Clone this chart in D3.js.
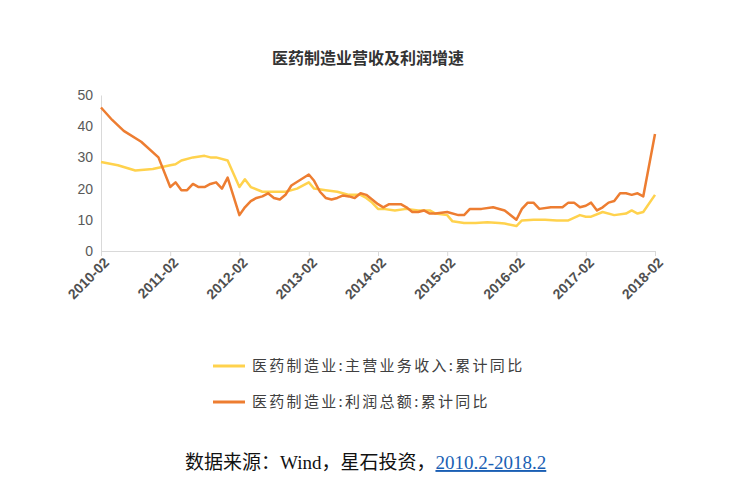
<!DOCTYPE html>
<html><head><meta charset="utf-8">
<script src="https://cdn.jsdelivr.net/npm/d3@7"></script>
<style>body{margin:0;background:#fff;font-family:"Noto Sans CJK SC",sans-serif;}</style>
</head><body>
<svg id="chart" width="737" height="485"></svg>
<script>
// 主营业务收入 累计同比
var revDates = ["2010-02","2010-05","2010-08","2010-11","2011-02","2011-03","2011-04","2011-06","2011-08","2011-09","2011-10","2011-12",
  "2012-02","2012-03","2012-04","2012-06","2012-08","2012-10","2012-12","2013-02","2013-03","2013-05","2013-07","2013-09","2013-11","2013-12",
  "2014-01","2014-02","2014-03","2014-05","2014-07","2014-09","2014-11","2014-12","2015-02","2015-03","2015-05","2015-07","2015-09","2015-11","2015-12",
  "2016-02","2016-03","2016-05","2016-07","2016-09","2016-11","2017-01","2017-02","2017-03","2017-05","2017-07","2017-09","2017-10","2017-11","2017-12","2018-02"];
var revValues = [28.5,27.5,25.8,26.3,27.5,27.8,29,30,30.5,30,30,29,
  20.5,23,20.5,19,19,19,20,22,20,19.5,19,18,18,17,
  15.5,13.5,13.5,13,13.5,13,13,12,11.5,9.5,9,9,9.2,9,8.8,
  8,9.8,10,10,9.8,9.8,11.5,11,11,12.5,11.5,12,13,12,12.5,18];
// 利润总额 累计同比
var profDates = ["2010-02","2010-04","2010-06","2010-09","2010-12","2011-02","2011-03","2011-04","2011-05","2011-06","2011-07","2011-08","2011-09","2011-10","2011-11","2011-12",
  "2012-02","2012-03","2012-04","2012-05","2012-06","2012-07","2012-08","2012-09","2012-10","2012-11","2013-02","2013-03","2013-04","2013-05","2013-06","2013-07","2013-08","2013-09","2013-10","2013-11","2013-12",
  "2014-01","2014-02","2014-03","2014-04","2014-06","2014-07","2014-08","2014-09","2014-10","2014-11","2014-12","2015-02","2015-04","2015-05","2015-06","2015-08","2015-10","2015-12",
  "2016-02","2016-03","2016-04","2016-05","2016-06","2016-08","2016-10","2016-11","2016-12","2017-01","2017-02","2017-03","2017-04","2017-05","2017-06","2017-07","2017-08","2017-09","2017-10","2017-11","2017-12","2018-02"];
var profValues = [46,42,38.5,35,30,20.5,22,19.5,19.5,21.5,20.5,20.5,21.5,22,20,23.5,
  11.5,14,16,17,17.5,18.5,17,16.5,18,21,24.5,22.5,19,17,16.5,17,17.8,17.5,17,18.5,18,
  16.5,15,14,15,15,14,12.5,12.5,13,12,12,12.5,11.5,11.5,13.5,13.5,14,13,
  10,13.5,15.5,15.5,13.5,14,14,15.5,15.5,14,14.5,15.5,13,14,15.5,16,18.5,18.5,18,18.5,17.5,37.5];
var xTicks = ["2010-02","2011-02","2012-02","2013-02","2014-02","2015-02","2016-02","2017-02","2018-02"];
var yTicks = [0,10,20,30,40,50];

var parse = d3.timeParse("%Y-%m");
var svg = d3.select("#chart");
var x = d3.scaleTime().domain([parse("2010-02"), parse("2018-02")]).range([101, 655]);
var y = d3.scaleLinear().domain([0, 50]).range([251, 95]);

svg.append("text").attr("x", 368).attr("y", 64).attr("text-anchor", "middle")
  .attr("font-size", 16).attr("font-weight", "bold").attr("fill", "#333").text("医药制造业营收及利润增速");

var gy = svg.append("g").attr("transform", "translate(101,0)")
  .call(d3.axisLeft(y).tickValues(yTicks).tickSize(0).tickPadding(8));
gy.select(".domain").attr("stroke", "#d9d9d9");
gy.selectAll("text").attr("font-size", 14).attr("fill", "#595959").attr("font-family", "Liberation Sans, sans-serif");

var gx = svg.append("g").attr("transform", "translate(0,251)")
  .call(d3.axisBottom(x).tickValues(xTicks.map(parse)).tickSize(5).tickFormat(d3.timeFormat("%Y-%m")));
gx.selectAll("path,line").attr("stroke", "#d9d9d9");
gx.selectAll("text").attr("font-size", 14).attr("font-weight", "bold").attr("fill", "#505050")
  .attr("font-family", "Liberation Sans, sans-serif")
  .attr("text-anchor", "end").attr("dx", "-0.2em").attr("dy", "0.5em").attr("transform", "rotate(-45)");

var line = d3.line().x(function(d){ return x(parse(d[0])); }).y(function(d){ return y(d[1]); });
svg.append("path").datum(d3.zip(revDates, revValues)).attr("d", line)
  .attr("fill", "none").attr("stroke", "#ffd24d").attr("stroke-width", 2.5).attr("stroke-linejoin", "round");
svg.append("path").datum(d3.zip(profDates, profValues)).attr("d", line)
  .attr("fill", "none").attr("stroke", "#ed7d31").attr("stroke-width", 2.5).attr("stroke-linejoin", "round");

var legend = [["医药制造业:主营业务收入:累计同比", "#ffd24d", 366], ["医药制造业:利润总额:累计同比", "#ed7d31", 402]];
legend.forEach(function(l){
  svg.append("line").attr("x1", 213).attr("x2", 245).attr("y1", l[2]).attr("y2", l[2])
    .attr("stroke", l[1]).attr("stroke-width", 3);
  svg.append("text").attr("x", 252).attr("y", l[2] + 5).attr("font-size", 15).attr("letter-spacing", 2.3)
    .attr("fill", "#404040").text(l[0]);
});

var src = svg.append("text").attr("x", 185).attr("y", 469).attr("font-size", 19).attr("fill", "#111")
  .attr("font-family", "Liberation Serif, Noto Sans CJK SC, serif");
src.append("tspan").text("数据来源：Wind，星石投资，");
src.append("tspan").attr("fill", "#1a5fb4").attr("text-decoration", "underline").text("2010.2-2018.2");
</script>
</body></html>
